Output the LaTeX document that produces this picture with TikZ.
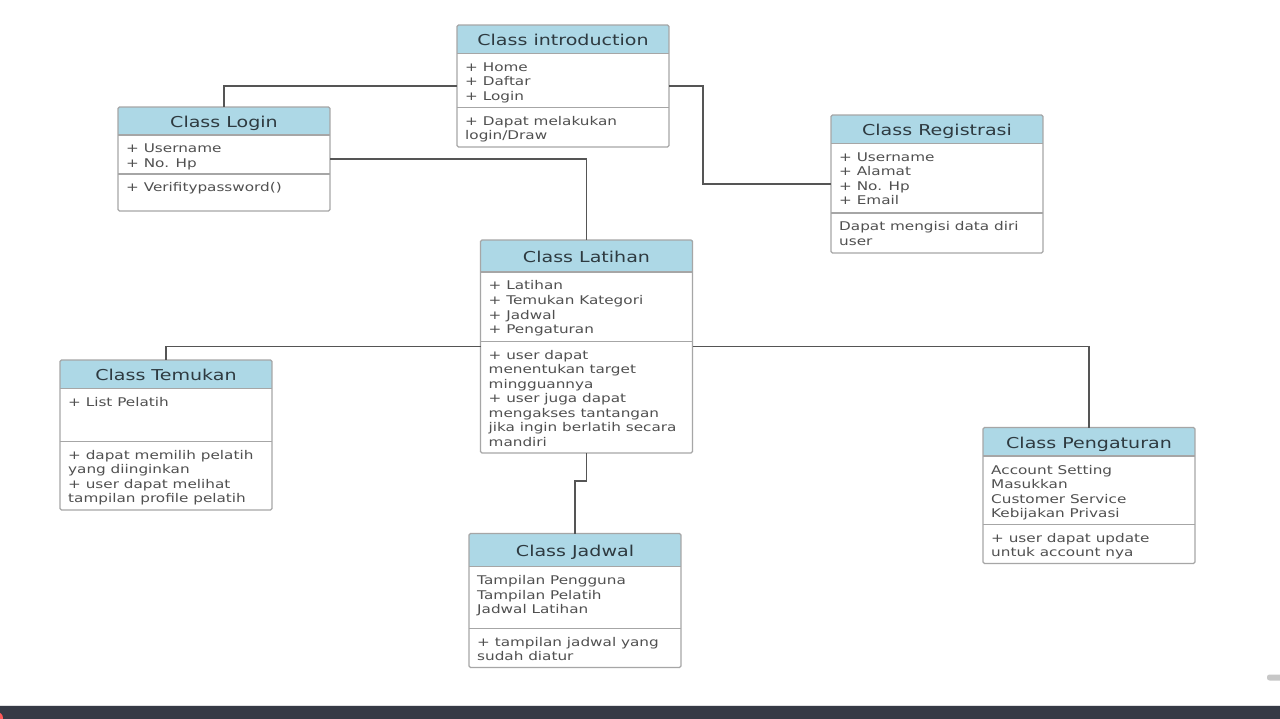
\documentclass[tikz,border=0pt]{standalone}
\usepackage{fontspec}
\setmainfont{DejaVu Sans}[FakeStretch=1.27]
\definecolor{headblue}{HTML}{ADD8E6}
\definecolor{boxgray}{HTML}{A6A6A6}
\definecolor{conngray}{HTML}{555555}
\definecolor{titlecol}{HTML}{2E3A40}
\definecolor{bodycol}{HTML}{505050}
\definecolor{barcol}{HTML}{363A45}
\newcommand{\clsTitleFont}{\fontsize{15}{18}\selectfont}
\newcommand{\clsBodyFont}{\fontsize{12}{14.5}\selectfont}
\tikzset{
  classbox/.style={fill=white, minimum width=212pt, inner sep=0pt, outer sep=0pt, anchor=north west},
  boxline/.style={draw=boxgray, line width=1.1pt},
  titletext/.style={font=\clsTitleFont, text=titlecol, inner sep=0pt, anchor=base},
  bodytext/.style={font=\clsBodyFont, text=bodycol, inner sep=0pt, anchor=north west, align=left},
  conn/.style={draw=conngray, line width=1.8pt}
}
% #1 name, #2 x, #3 y, #4 height, #5 header height, #6 divider offset, #7 title, #8 attributes, #9 methods
\newcommand{\uclass}[9]{%
  \node[classbox, minimum height=#4pt] (#1) at (#2,#3) {};
  \fill[headblue] (#2,#3) rectangle ++(212,#5);
  \draw[boxline] (#2,#3+#5) -- ++(212,0);
  \draw[boxline] (#2,#3+#6) -- ++(212,0);
  \draw[boxline, rounded corners=1.5pt] (#1.north west) rectangle (#1.south east);
  \node[titletext] (#1-t) at (#2+106,#3+#5/2+6.5) {#7};
  \node[bodytext] (#1-a) at (#2+8,#3+#5+17.8-10.15) {\strut#8};
  \node[bodytext] (#1-m) at (#2+8,#3+#6+17.7-10.15) {\strut#9};
}
\begin{document}
\begin{tikzpicture}[x=1pt,y=-1pt]
\useasboundingbox[fill=white] (0,0) rectangle (1280,719);

\uclass{intro}{457}{25}{122}{28.5}{82.5}{Class introduction}{+ Home\\+ Daftar\\+ Login}{+ Dapat melakukan\\login/Draw}
\uclass{login}{118}{107}{104}{28}{67}{Class Login}{+ Username\\+ No. Hp}{+ Verifitypassword()}
\uclass{regist}{831}{115}{138}{28.5}{98}{Class Registrasi}{+ Username\\+ Alamat\\+ No. Hp\\+ Email}{Dapat mengisi data diri\\user}
\uclass{latihan}{480.5}{240}{213}{32}{101.5}{Class Latihan}{+ Latihan\\+ Temukan Kategori\\+ Jadwal\\+ Pengaturan}{+ user dapat\\menentukan target\\mingguannya\\+ user juga dapat\\mengakses tantangan\\jika ingin berlatih secara\\mandiri}
\uclass{temukan}{60}{360}{150}{28.5}{81.5}{Class Temukan}{+ List Pelatih}{+ dapat memilih pelatih\\yang diinginkan\\+ user dapat melihat\\tampilan profile pelatih}
\uclass{peng}{983}{427.5}{136}{28.5}{97}{Class Pengaturan}{Account Setting\\Masukkan\\Customer Service\\Kebijakan Privasi}{+ user dapat update\\untuk account nya}
\uclass{jadwal}{469}{533.5}{134}{33}{95}{Class Jadwal}{Tampilan Pengguna\\Tampilan Pelatih\\Jadwal Latihan}{+ tampilan jadwal yang\\sudah diatur}

\coordinate (bendA) at (703,0);
\coordinate (bendB) at (0,481);

\draw[conn] (login.north) |- (intro.west);
\draw[conn] (intro.east) -- (intro.east -| bendA) -- (bendA |- regist.west) -- (regist.west);
\draw[conn] (login.east) -| (latihan.north);
\draw[conn] (latihan.west) -| (temukan.north);
\draw[conn] (latihan.east) -| (peng.north);
\draw[conn] (latihan.south) -- (latihan.south |- bendB) -| (jadwal.north);

% bottom window bar and decorations
\fill[barcol] (0,705) rectangle (1280,719);
\draw[white!85!barcol, line width=0.6pt] (0,705) -- (1280,705);
\fill[red!65!white] (-3,718) circle (6);
\fill[black!22, rounded corners=2.5pt] (1267,674.5) rectangle (1286,680.5);
\end{tikzpicture}
\end{document}
